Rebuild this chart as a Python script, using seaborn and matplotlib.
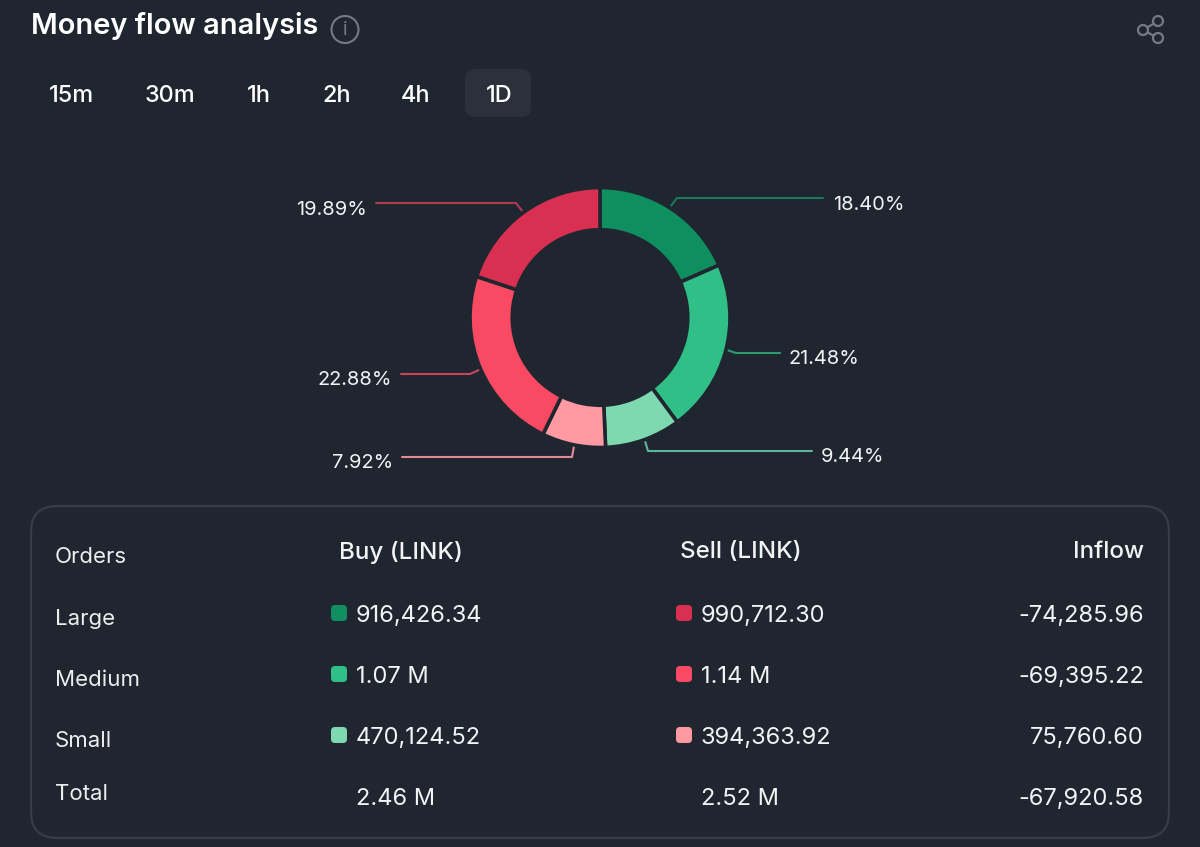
import matplotlib
matplotlib.use("Agg")
import matplotlib.pyplot as plt
from matplotlib.patches import FancyBboxPatch, Circle
import seaborn as sns

BG = "#1f2630"
sns.set_theme(style="dark", rc={"figure.facecolor": BG, "axes.facecolor": BG})
plt.rcParams["font.family"] = ["Inter", "DejaVu Sans"]

title = "Money flow analysis"
intervals = ["15m", "30m", "1h", "2h", "4h", "1D"]
active_interval = "1D"
shares = [18.40, 21.48, 9.44, 7.92, 22.88, 19.89]
share_labels = ["18.40%", "21.48%", "9.44%", "7.92%", "22.88%", "19.89%"]
slice_colors = ["#0f8f60", "#2fbf87", "#7fd9b0", "#ff9aa2", "#f94a63", "#d92f50"]
line_colors = ["#1a7a58", "#2a9a70", "#5fb598", "#e58a92", "#c94458", "#b03a50"]
headers = ["Orders", "Buy (LINK)", "Sell (LINK)", "Inflow"]
rows = ["Large", "Medium", "Small", "Total"]
buy = ["916,426.34", "1.07 M", "470,124.52", "2.46 M"]
sell = ["990,712.30", "1.14 M", "394,363.92", "2.52 M"]
inflow = ["-74,285.96", "-69,395.22", "75,760.60", "-67,920.58"]

W, H = 1200, 847
fig = plt.figure(figsize=(W / 100, H / 100), dpi=100, facecolor=BG)
ax = fig.add_axes([0, 0, 1, 1])
ax.set_xlim(0, W)
ax.set_ylim(H, 0)
ax.axis("off")

# Donut
cx, cy, r = 600, 317.5, 130
pie_ax = fig.add_axes([(cx - r) / W, 1 - (cy + r) / H, 2 * r / W, 2 * r / H])
pie_ax.pie(shares, colors=slice_colors, startangle=90, counterclock=False, radius=1,
           wedgeprops=dict(width=0.325, edgecolor=BG, linewidth=2.6))
pie_ax.set_xlim(-1, 1)
pie_ax.set_ylim(-1, 1)

# Leader lines and percentage labels (layout, in pixels)
leaders = [
    ([670, 677, 823], [207, 198, 198], 833, 205, "left"),
    ([727, 736, 780], [350, 353, 353], 789, 359, "left"),
    ([645, 648, 812], [441, 451, 451], 821, 457, "left"),
    ([574, 572, 402], [446, 457, 457], 393, 463, "right"),
    ([481, 470, 401], [369, 374, 374], 392, 380, "right"),
    ([523, 516, 376], [212, 203, 203], 367, 210, "right"),
]
for (xs, ys, tx, ty, ha), lab, col in zip(leaders, share_labels, line_colors):
    ax.plot(xs, ys, color=col, lw=1.5, solid_joinstyle="round")
    ax.text(tx, ty, lab, color="#f2f3f5", fontsize=14.4, ha=ha, va="center")

# Header
ax.text(31, 26, title, color="white", fontsize=20.9, fontweight="semibold", va="center")
ax.add_patch(Circle((345, 29.5), 13.5, fill=False, ec="#737a85", lw=1.5))
ax.text(345, 30, "i", color="#737a85", fontsize=14, ha="center", va="center")

# Share icon
ic = "#737a85"
nodes = [(1143, 30), (1158, 21), (1158, 38)]
ax.plot([nodes[1][0], nodes[0][0], nodes[2][0]], [nodes[1][1], nodes[0][1], nodes[2][1]], color=ic, lw=1.6)
for n in nodes:
    ax.add_patch(Circle(n, 5, fc=BG, ec=ic, lw=1.6, zorder=3))

# Interval buttons
ax.add_patch(FancyBboxPatch((473, 77), 50, 32, boxstyle="round,pad=8,rounding_size=10",
                            fc="#2a313b", ec="none"))
for x, lab in zip([71, 170, 259, 337, 416, 499], intervals):
    ax.text(x, 95.5, lab, color="white", fontsize=16.9, fontweight="medium", ha="center", va="center")

# Table
ax.add_patch(FancyBboxPatch((55, 530), 1090, 284, boxstyle="round,pad=24,rounding_size=26",
                            fc="none", ec="#363d48", lw=1.6))
ax.text(55, 557, headers[0], color="#eceded", fontsize=16, va="center")
ax.text(401, 552, headers[1], color="#f2f3f5", fontsize=17.4, fontweight="medium", ha="center", va="center")
ax.text(741, 552, headers[2], color="#f2f3f5", fontsize=17.4, fontweight="medium", ha="center", va="center")
ax.text(1144, 552, headers[3], color="#f2f3f5", fontsize=17.4, fontweight="medium", ha="right", va="center")

label_y = [619, 680, 741, 794]
value_y = [616, 677, 738, 799]
swatch_y = [613, 674, 735]
for i, name in enumerate(rows):
    ax.text(55, label_y[i], name, color="#eceded", fontsize=16, va="center")
    ax.text(356, value_y[i], buy[i], color="#f2f3f5", fontsize=17, va="center")
    ax.text(701, value_y[i], sell[i], color="#f2f3f5", fontsize=17, va="center")
    ax.text(1144, value_y[i], inflow[i], color="#f2f3f5", fontsize=17, ha="right", va="center")
    if i < 3:
        for x0, c in ((339, slice_colors[i]), (684, slice_colors[5 - i])):
            ax.add_patch(FancyBboxPatch((x0 - 4, swatch_y[i] - 4), 8, 8,
                                        boxstyle="round,pad=4,rounding_size=4", fc=c, ec="none"))

fig.savefig("out.png", dpi=100, facecolor=BG)
